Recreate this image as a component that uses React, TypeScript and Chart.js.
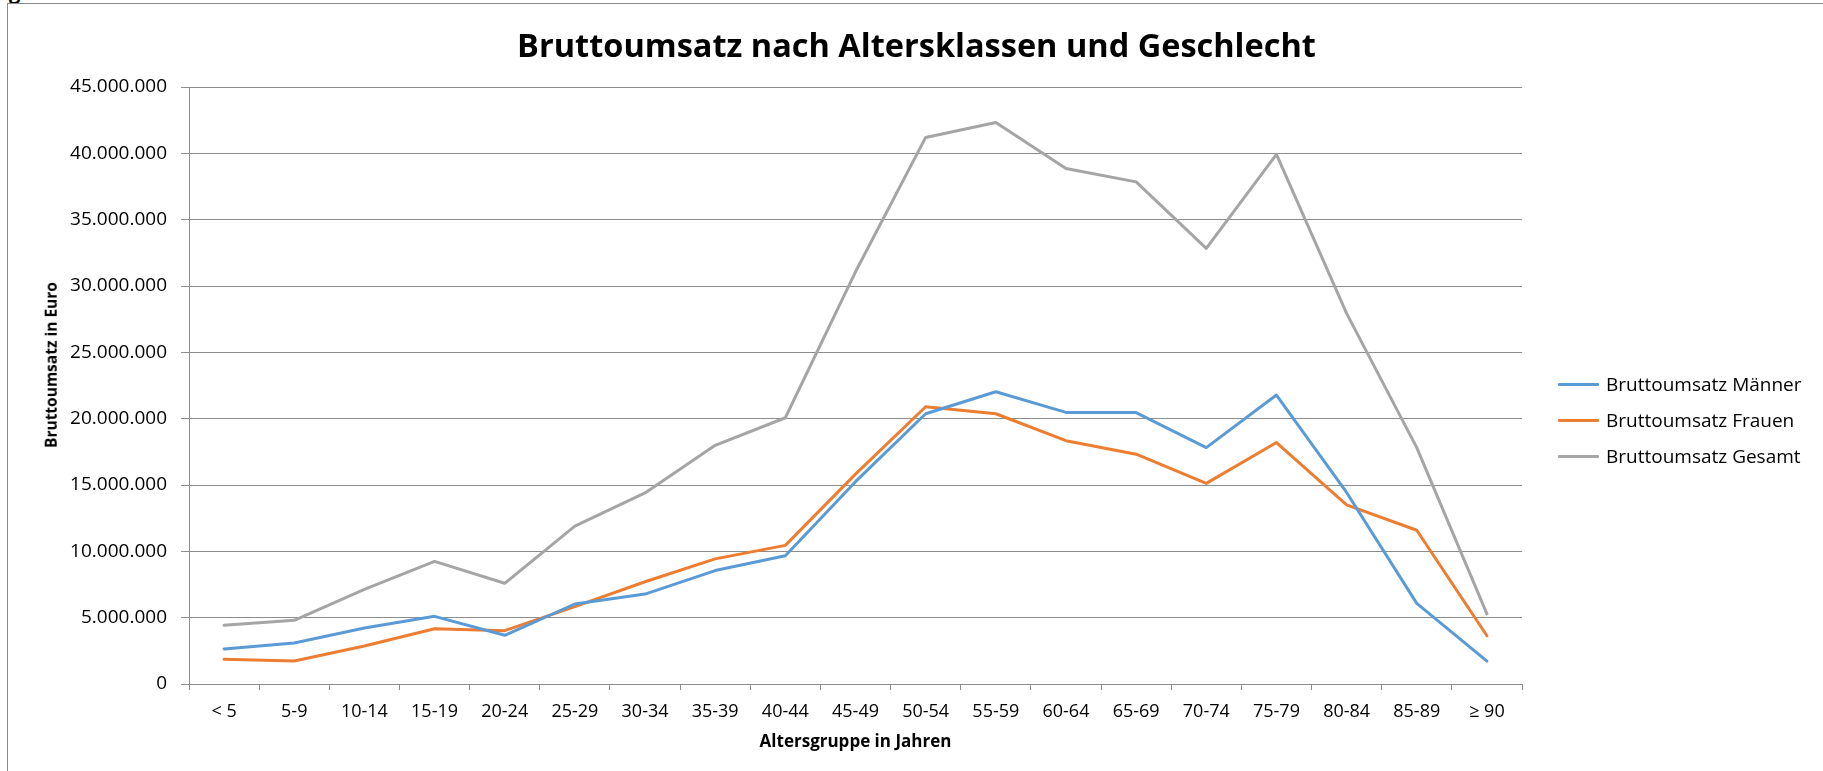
import React, { useEffect, useRef } from 'react';
import { Chart, registerables } from 'chart.js';

Chart.register(...registerables);

const categories = ['< 5', '5-9', '10-14', '15-19', '20-24', '25-29', '30-34', '35-39', '40-44', '45-49', '50-54', '55-59', '60-64', '65-69', '70-74', '75-79', '80-84', '85-89', '≥ 90'];

const maenner = [2640000, 3090000, 4220000, 5100000, 3670000, 6030000, 6780000, 8550000, 9670000, 15250000, 20370000, 22030000, 20470000, 20460000, 17820000, 21780000, 14440000, 6080000, 1730000];
const frauen = [1860000, 1730000, 2860000, 4170000, 4020000, 5830000, 7710000, 9430000, 10450000, 15820000, 20900000, 20370000, 18340000, 17320000, 15120000, 18200000, 13500000, 11590000, 3640000];
const gesamt = [4420000, 4800000, 7130000, 9240000, 7590000, 11900000, 14400000, 17990000, 20070000, 31070000, 41200000, 42330000, 38860000, 37850000, 32840000, 39920000, 27940000, 17820000, 5280000];

const seriesLabels = ['Bruttoumsatz Männer', 'Bruttoumsatz Frauen', 'Bruttoumsatz Gesamt'];
const seriesColors = ['#5B9BD5', '#ED7D31', '#A5A5A5'];

const yMin = 0;
const yMax = 45000000;
const yStep = 5000000;

const titleText = 'Bruttoumsatz nach Altersklassen und Geschlecht';
const xTitle = 'Altersgruppe in Jahren';
const yTitle = 'Bruttoumsatz in Euro';

const fmt = (v: number) => String(Math.round(v)).replace(/\B(?=(\d{3})+(?!\d))/g, '.');

const FONT = "'Open Sans', sans-serif";
const GRID = '#8c8c8c';

export default function App() {
  const ref = useRef<HTMLCanvasElement>(null);

  useEffect(() => {
    document.body.style.margin = '0';
    const seriesData = [maenner, frauen, gesamt];
    const chart = new Chart(ref.current as HTMLCanvasElement, {
      type: 'line',
      data: {
        labels: categories,
        datasets: seriesData.map((d, i) => ({
          label: seriesLabels[i],
          data: d,
          borderColor: seriesColors[i],
          backgroundColor: seriesColors[i],
          borderWidth: 3,
          pointRadius: 0,
          pointHoverRadius: 0,
          tension: 0,
          borderJoinStyle: 'round' as const,
          borderCapStyle: 'round' as const,
          fill: false,
          yAxisID: 'y',
          xAxisID: 'x',
        })),
      },
      options: {
        animation: false,
        responsive: false,
        devicePixelRatio: 1,
        layout: { padding: { left: 10, right: 0, top: 0, bottom: 0 } },
        plugins: {
          legend: { display: false },
          tooltip: { enabled: false },
          title: {
            display: true,
            text: titleText,
            color: '#000',
            font: { family: FONT, size: 32.5, weight: 'bold', lineHeight: 1.2 },
            padding: { top: 28, bottom: 20 },
          },
        },
        scales: {
          x: {
            type: 'category',
            offset: true,
            grid: {
              display: true,
              drawOnChartArea: false,
              drawTicks: true,
              tickLength: 6,
              color: GRID,
              offset: true,
            },
            border: { display: true, color: GRID, width: 1 },
            ticks: {
              color: '#000',
              font: { family: FONT, size: 18 },
              padding: 11,
              maxRotation: 0,
              autoSkip: false,
            },
            title: {
              display: true,
              text: xTitle,
              color: '#000',
              font: { family: FONT, size: 17, weight: 'bold', lineHeight: 1.2 },
              padding: { top: 0, bottom: 19 },
            },
            afterFit: (s: any) => {
              s.height = 87;
            },
          },
          y: {
            type: 'linear',
            position: 'left',
            min: yMin,
            max: yMax,
            ticks: {
              stepSize: yStep,
              callback: (v: any) => fmt(Number(v)),
              color: '#000',
              font: { family: FONT, size: 19 },
              padding: 14,
            },
            grid: { color: GRID, tickLength: 8, drawTicks: true },
            border: { display: true, color: GRID },
            title: { display: false },
            afterFit: (s: any) => {
              s.width = 179;
            },
          },
          r: {
            type: 'linear',
            position: 'right',
            display: true,
            grid: { display: false, drawTicks: false },
            border: { display: false },
            ticks: { display: false },
            afterFit: (s: any) => {
              s.width = 301;
            },
          },
        },
      },
    } as any);
    return () => chart.destroy();
  }, []);

  const legendRows = [384, 420, 456];

  return (
    <div
      style={{
        position: 'fixed',
        left: 0,
        top: 0,
        width: 1823,
        height: 771,
        overflow: 'hidden',
        background: '#fff',
      }}
    >
      <span
        style={{
          position: 'absolute',
          left: 9,
          top: -22,
          fontFamily: FONT,
          fontWeight: 'bold',
          fontSize: 20,
          lineHeight: '27px',
          color: '#000',
        }}
      >
        g
      </span>
      <div
        style={{
          position: 'absolute',
          left: 7,
          top: 3,
          width: 1900,
          height: 900,
          borderLeft: '1px solid #8a8a8a',
          borderTop: '1px solid #8a8a8a',
          boxSizing: 'border-box',
        }}
      />
      <canvas
        ref={ref}
        width={1823}
        height={771}
        style={{ position: 'absolute', left: 0, top: 0, width: 1823, height: 771 }}
      />
      <div
        style={{
          position: 'absolute',
          left: 51,
          top: 365,
          transform: 'translate(-50%, -50%) rotate(-90deg)',
          fontFamily: FONT,
          fontWeight: 'bold',
          fontSize: 15.5,
          color: '#000',
          whiteSpace: 'nowrap',
          lineHeight: 1.2,
        }}
      >
        {yTitle}
      </div>
      {seriesLabels.map((lbl, i) => (
        <div
          key={lbl}
          style={{
            position: 'absolute',
            left: 1558,
            top: legendRows[i] - 15,
            height: 30,
            display: 'flex',
            alignItems: 'center',
            whiteSpace: 'nowrap',
          }}
        >
          <div style={{ width: 41, height: 3, background: seriesColors[i], borderRadius: 1 }} />
          <span
            style={{
              marginLeft: 7,
              fontFamily: FONT,
              fontSize: 19,
              color: '#000',
            }}
          >
            {lbl}
          </span>
        </div>
      ))}
    </div>
  );
}
